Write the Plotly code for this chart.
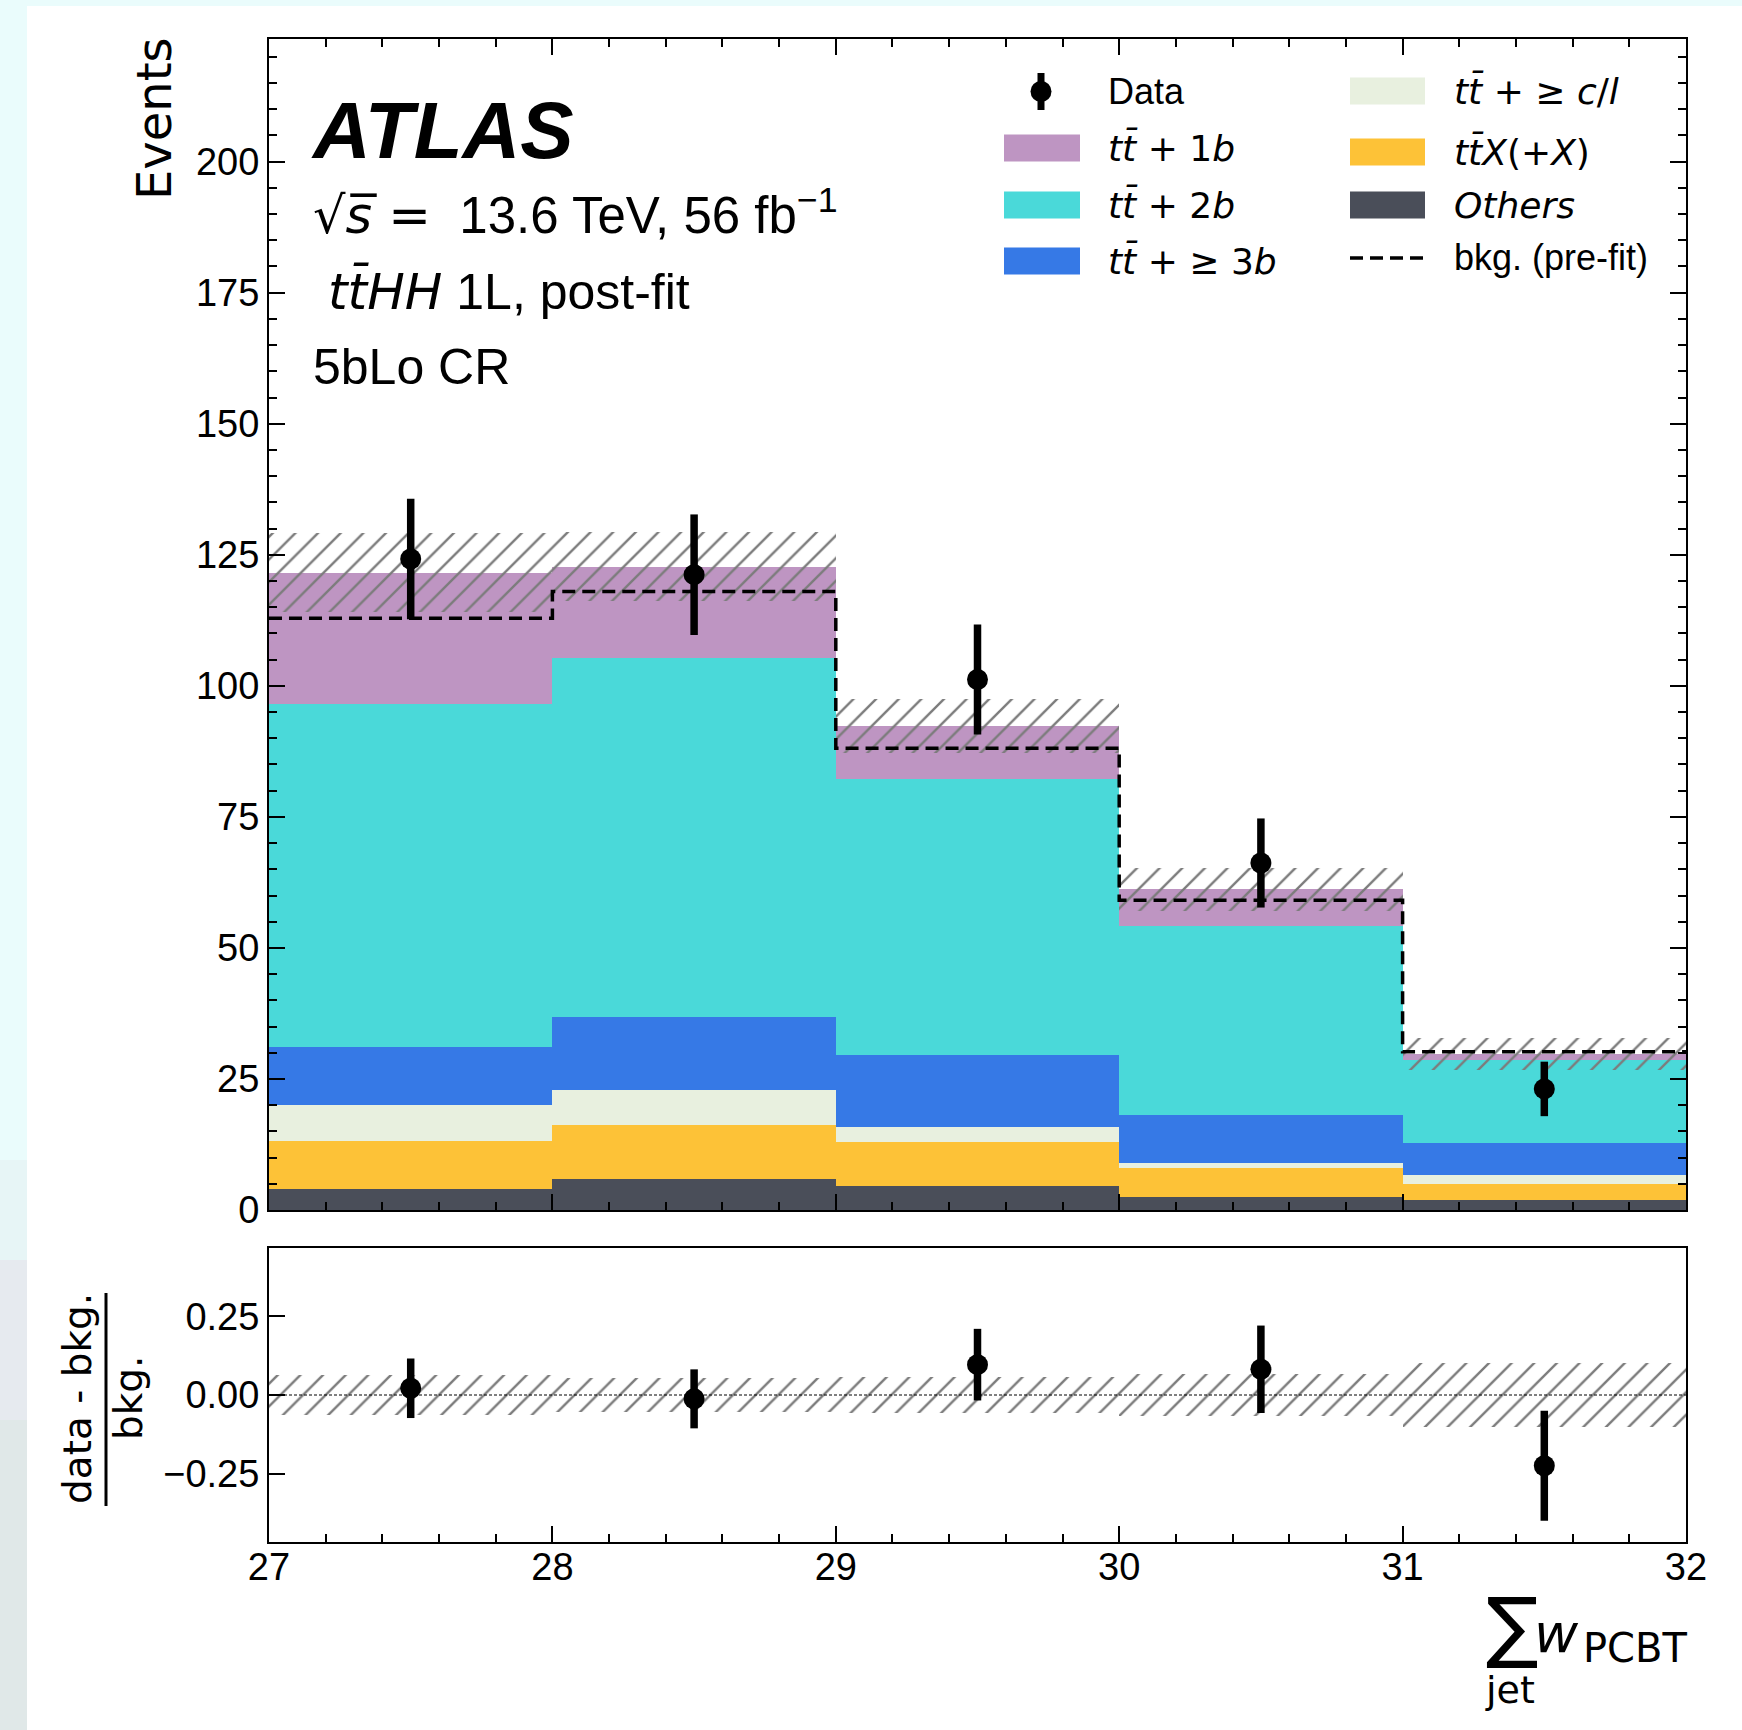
import plotly.graph_objects as go
import numpy as np

# ---------------- data ----------------
bin_edges = [27, 28, 29, 30, 31, 32]
others = [4.0, 6.0, 4.6, 2.5, 2.0]
ttx    = [9.1, 10.2, 8.3, 5.5, 3.0]
ttcl   = [6.9, 6.6, 3.0, 0.9, 1.6]
tt3b   = [11.1, 14.0, 13.7, 9.2, 6.1]
tt2b   = [65.5, 68.6, 52.6, 36.1, 15.9]
tt1b   = [25.0, 17.3, 10.1, 7.0, 1.2]
data     = [124.2, 121.2, 101.2, 66.2, 23.1]
data_err = [11.5, 11.5, 10.5, 8.5, 5.2]
prefit   = [112.9, 118.0, 88.1, 59.1, 30.2]
bkg_unc  = [7.6, 6.6, 5.2, 4.1, 3.0]

yticks_main = [0, 25, 50, 75, 100, 125, 150, 175, 200]
yticks_ratio = [-0.25, 0.0, 0.25]
yticks_ratio_text = ["\u22120.25", "0.00", "0.25"]
xticks = [27, 28, 29, 30, 31, 32]

# ---------------- styling ----------------
W, H = 1742, 1730
ML, MR, MT, MB = 269, 56, 39, 188
PW = W - ML - MR
PH = H - MT - MB


def PX(x):
    return (x - ML) / PW


def PY(y):
    return (H - MB - y) / PH


components = [
    ("Others", others, "#4a4e59"),
    ("ttX", ttx, "#fdc237"),
    ("ttcl", ttcl, "#e8f0df"),
    ("tt3b", tt3b, "#3679e6"),
    ("tt2b", tt2b, "#4ad9d9"),
    ("tt1b", tt1b, "#be95c2"),
]

edges = np.array(bin_edges, dtype=float)
centers = 0.5 * (edges[:-1] + edges[1:])
widths = edges[1:] - edges[:-1]

fig = go.Figure()

base = np.zeros(len(centers))
for name, vals, col in components:
    v = np.array(vals)
    fig.add_trace(go.Bar(x=centers, y=v, base=base.copy(), width=widths,
                         marker=dict(color=col, line=dict(width=0)),
                         name=name, showlegend=False, xaxis="x", yaxis="y"))
    base = base + v
total = base

unc = np.array(bkg_unc)
hatch_color = "#7c7c7c"
hatch = dict(shape="/", fgcolor=hatch_color, bgcolor="rgba(0,0,0,0)", size=16,
             solidity=0.15, fillmode="replace")
fig.add_trace(go.Bar(x=centers, y=2 * unc, base=total - unc, width=widths,
                     marker=dict(color="rgba(0,0,0,0)", line=dict(width=0), pattern=hatch),
                     showlegend=False, xaxis="x", yaxis="y"))

# pre-fit step line
fig.add_trace(go.Scatter(x=edges, y=list(prefit) + [prefit[-1]], mode="lines",
                         line=dict(color="black", width=3.5, dash="13px,7px", shape="hv"),
                         showlegend=False, xaxis="x", yaxis="y"))

# data
fig.add_trace(go.Scatter(x=centers, y=data, mode="markers",
                         marker=dict(color="black", size=21),
                         error_y=dict(type="data", array=data_err, color="black",
                                      thickness=7.5, width=0),
                         showlegend=False, xaxis="x", yaxis="y"))

# ratio panel
rel_unc = unc / total
fig.add_trace(go.Bar(x=centers, y=2 * rel_unc, base=-rel_unc, width=widths,
                     marker=dict(color="rgba(0,0,0,0)", line=dict(width=0), pattern=hatch),
                     showlegend=False, xaxis="x2", yaxis="y2"))
ratio = (np.array(data) - total) / total
ratio_err = np.array(data_err) / total
fig.add_trace(go.Scatter(x=centers, y=ratio, mode="markers",
                         marker=dict(color="black", size=21),
                         error_y=dict(type="data", array=ratio_err, color="black",
                                      thickness=7.5, width=0),
                         showlegend=False, xaxis="x2", yaxis="y2"))

tickfont = dict(family="Liberation Sans, Arial, sans-serif", size=38, color="black")
common_x = dict(range=[27, 32], showline=True, linewidth=2, linecolor="black",
                ticks="inside", ticklen=16, tickwidth=2, tickcolor="black",
                tickvals=xticks, showgrid=False, zeroline=False,
                minor=dict(dtick=0.2, tick0=27, ticklen=8, tickwidth=1.5,
                           ticks="inside", tickcolor="black", showgrid=False))
fig.update_layout(
    width=W, height=H,
    margin=dict(l=ML, r=MR, t=MT, b=MB),
    paper_bgcolor="#eafcfc",
    plot_bgcolor="white",
    barmode="overlay",
    bargap=0,
    showlegend=False,
    xaxis=dict(**common_x, anchor="y", mirror="allticks", showticklabels=False,
               matches="x2"),
    yaxis=dict(range=[0, 223.4], domain=[PY(1210), 1.0], anchor="x",
               showline=True, linewidth=2, linecolor="black", mirror="allticks",
               ticks="inside", ticklen=16, tickwidth=2, tickcolor="black",
               tickvals=yticks_main, tickfont=tickfont, ticklabelstandoff=0,
               showgrid=False, zeroline=False,
               minor=dict(dtick=5, tick0=0, ticklen=8, tickwidth=1.5,
                          ticks="inside", tickcolor="black", showgrid=False)),
    xaxis2=dict(**common_x, anchor="y2", mirror=True, tickfont=tickfont,
                ticklabelstandoff=-10),
    yaxis2=dict(range=[-0.467, 0.467], domain=[0.0, PY(1248)], anchor="x2",
                showline=True, linewidth=2, linecolor="black", mirror=True,
                ticks="inside", ticklen=16, tickwidth=2, tickcolor="black",
                tickvals=yticks_ratio, ticktext=yticks_ratio_text, tickfont=tickfont,
                ticklabelstandoff=0, showgrid=False, zeroline=False),
)

shapes = []
# page background: white sheet with light cyan edge
shapes.append(dict(type="rect", xref="paper", yref="paper", layer="below",
                   x0=PX(27), x1=PX(W + 5), y0=PY(6), y1=PY(H + 5),
                   fillcolor="white", line=dict(width=0)))
for (y0, y1, c) in [(1160, 1260, "#e7f5f6"), (1260, 1420, "#e6eaef"),
                    (1420, H + 5, "#e0e8e8")]:
    shapes.append(dict(type="rect", xref="paper", yref="paper", layer="below",
                       x0=PX(-5), x1=PX(27), y0=PY(y0), y1=PY(y1),
                       fillcolor=c, line=dict(width=0)))
# zero line in ratio
shapes.append(dict(type="line", xref="x2", yref="y2", x0=27, x1=32, y0=0, y1=0,
                   line=dict(color="black", width=1, dash="3px,2px")))
# ratio label fraction bar
shapes.append(dict(type="line", xref="paper", yref="paper", x0=PX(106), x1=PX(106),
                   y0=PY(1293), y1=PY(1506), line=dict(color="black", width=3)))

# manual legend
row_left = [91, 148, 205, 261]
row_right = [91, 152, 205, 258]
box_h = 27
left_boxes = [("tt1b", "#be95c2"), ("tt2b", "#4ad9d9"), ("tt3b", "#3679e6")]
for i, (_, col) in enumerate(left_boxes):
    yc = row_left[i + 1]
    shapes.append(dict(type="rect", xref="paper", yref="paper",
                       x0=PX(1004), x1=PX(1080), y0=PY(yc - box_h / 2), y1=PY(yc + box_h / 2),
                       fillcolor=col, line=dict(width=0)))
right_boxes = [("ttcl", "#e8f0df"), ("ttX", "#fdc237"), ("Others", "#4a4e59")]
for i, (_, col) in enumerate(right_boxes):
    yc = row_right[i]
    shapes.append(dict(type="rect", xref="paper", yref="paper",
                       x0=PX(1350), x1=PX(1425), y0=PY(yc - box_h / 2), y1=PY(yc + box_h / 2),
                       fillcolor=col, line=dict(width=0)))
# data symbol in legend
shapes.append(dict(type="line", xref="paper", yref="paper", x0=PX(1041), x1=PX(1041),
                   y0=PY(73), y1=PY(110), line=dict(color="black", width=7)))
shapes.append(dict(type="circle", xref="paper", yref="paper",
                   x0=PX(1041 - 10.5), x1=PX(1041 + 10.5), y0=PY(91.5 - 10.5), y1=PY(91.5 + 10.5),
                   fillcolor="black", line=dict(width=0)))
# dashed line in legend
shapes.append(dict(type="line", xref="paper", yref="paper", x0=PX(1350), x1=PX(1425),
                   y0=PY(258), y1=PY(258), line=dict(color="black", width=3.5, dash="13px,7px")))
fig.update_layout(shapes=shapes)

HEL = "Liberation Sans, Arial, sans-serif"
DJ = "DejaVu Sans"
TB = "t\u0304"  # t-bar


def mt(s):
    return "<span style='font-family:DejaVu Sans'>" + s + "</span>"


anns = []


def ann(x, y, text, size, family=HEL, xanchor="left", yanchor="middle", angle=0):
    anns.append(dict(xref="paper", yref="paper", x=PX(x), y=PY(y), text=text,
                     showarrow=False, xanchor=xanchor, yanchor=yanchor, textangle=angle,
                     font=dict(family=family, size=size, color="black")))


ann(309, 131, "<b><i>ATLAS</i></b>", 80)
ann(311, 212, mt("\u221a<i>s\u0305</i> =") + "  13.6 TeV, 56 fb<sup>\u22121</sup>", 51)
ann(326, 291, mt("<i>t" + TB + "HH</i>") + " 1L, post-fit", 50)
ann(311, 367, "5bLo CR", 50)

# legend labels
lf = 36
ann(1106, row_left[0], "Data", lf)
ann(1106, row_left[1], "<i>t" + TB + "</i> + 1<i>b</i>", lf, family=DJ)
ann(1106, row_left[2], "<i>t" + TB + "</i> + 2<i>b</i>", lf, family=DJ)
ann(1106, row_left[3], "<i>t" + TB + "</i> + \u2265 3<i>b</i>", lf, family=DJ)
ann(1452, row_right[0], "<i>t" + TB + "</i> + \u2265 <i>c</i>/<i>l</i>", lf, family=DJ)
ann(1452, row_right[1], "<i>t" + TB + "X</i>(+<i>X</i>)", lf, family=DJ)
ann(1452, row_right[2], "<i>Others</i>", lf, family=DJ)
ann(1452, row_right[3], "bkg. (pre-fit)", lf)

# axis titles
ann(154, 119, "Events", 48, family=DJ, xanchor="center", angle=-90)
ann(77, 1399, "data - bkg.", 39, family=DJ, xanchor="center", angle=-90)
ann(128, 1398, "bkg.", 39, family=DJ, xanchor="center", angle=-90)

ann(1512, 1626, "\u2211", 78, family=DJ, xanchor="center")
ann(1556, 1633, "<i>w</i>", 54, family=DJ, xanchor="center")
ann(1635, 1648, "PCBT", 40, family=DJ, xanchor="center")
ann(1510, 1690, "jet", 38, family=DJ, xanchor="center")

fig.update_layout(annotations=anns)

fig.write_html("out.html", config={"displayModeBar": False},
               post_script="document.body.style.margin='0px';")
